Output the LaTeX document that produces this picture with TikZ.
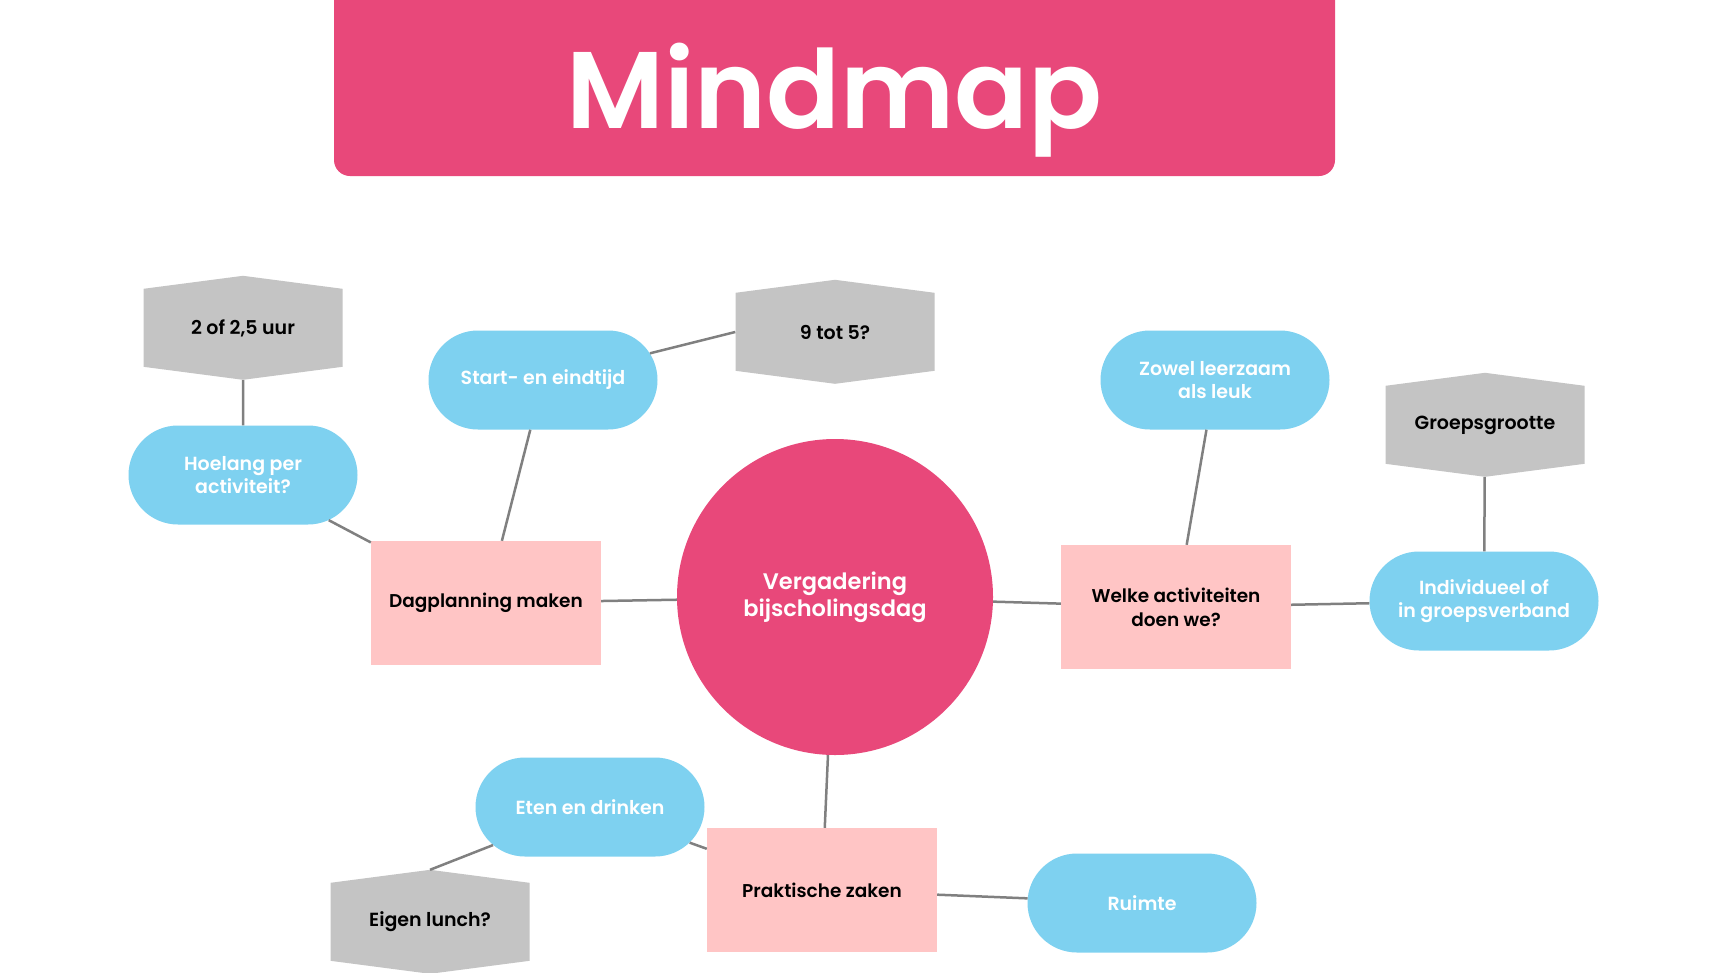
\documentclass[tikz,border=0pt]{standalone}
\usepackage{fontspec}
\setmainfont{Poppins}[BoldFont={Poppins SemiBold}]
\usetikzlibrary{backgrounds,shapes.misc}

\definecolor{mmpink}{HTML}{E8487A}
\definecolor{mmrose}{HTML}{FFC5C5}
\definecolor{mmblue}{HTML}{7ED1F0}
\definecolor{mmgrey}{HTML}{C4C4C4}
\definecolor{mmline}{HTML}{808080}

\tikzset{
    hub/.style={circle, fill=mmpink, minimum size=316pt, inner sep=0pt,
        align=center, text=white, font=\fontsize{22.5}{27.5}\selectfont\bfseries},
    topic/.style={rectangle, fill=mmrose, minimum width=230pt,
        minimum height=124pt, inner sep=0pt, align=center,
        font=\fontsize{18.5}{24}\selectfont\bfseries},
    pill/.style={rounded rectangle, fill=mmblue,
        minimum width=229pt, minimum height=99pt, inner sep=0pt,
        align=center, text=white, font=\fontsize{19}{23.5}\selectfont\bfseries},
    hexbox/.style={rectangle, minimum width=199pt, minimum height=104pt,
        inner sep=0pt, align=center, font=\fontsize{19}{23}\selectfont\bfseries},
    hexfill/.style={fill=mmgrey},
    link/.style={draw=mmline, line width=2.5pt},
}

\begin{document}
\begin{tikzpicture}[x=1pt, y=-1pt]

    \useasboundingbox (0,0) rectangle (1728,972);

    % title
    \node[fill=mmpink,
    rounded corners=16pt,
    minimum width=1001pt,
    minimum height=192pt,
    inner sep=0pt,
    text height=97pt,
    text depth=0pt,
    text=white,
    font=\fontsize{109}{109}\selectfont\bfseries] (title) at (834.5,80) {Mindmap};

    % centre and main topics
    \node[hub] (hub) at (835,597) {Vergadering\\bijscholingsdag};

    \node[topic] (dag) at (486,603) {Dagplanning maken};
    \node[topic] (welke) at (1176,607) {Welke activiteiten\\doen we?};
    \node[topic] (prak) at (822,890) {Praktische zaken};

    % sub topics
    \node[pill] (start) at (543,380) {Start- en eindtijd};
    \node[pill] (hoelang) at (243,475) {Hoelang per\\activiteit?};
    \node[pill] (zowel) at (1215,380) {Zowel leerzaam\\als leuk};
    \node[pill] (indiv) at (1484,601) {Individueel of\\in groepsverband};
    \node[pill] (eten) at (590,807) {Eten en drinken};
    \node[pill] (ruimte) at (1142,903) {Ruimte};

    \node[hexbox] (uur) at (243,328) {2 of 2,5 uur};
    \node[hexbox] (tijd) at (835,332) {9 tot 5?};
    \node[hexbox] (groep) at (1485,425) {Groepsgrootte};
    \node[hexbox] (lunch) at (430,922) {Eigen lunch?};

    \begin{scope}[on background layer]
        \fill[white] (0,0) rectangle (1728,972);
        \foreach \h in {uur,tijd,groep,lunch}
            \fill[hexfill] (\h.north) -- ++(99.5,13) -- ++(0,78)
                -- ++(-99.5,13) -- ++(-99.5,-13) -- ++(0,-78) -- cycle;
    \end{scope}

    \draw[link] (hub) -- (dag);
    \draw[link] (hub) -- (welke);
    \draw[link] (hub) -- (prak);

    \draw[link] (dag) -- (start);
    \draw[link] (dag) -- (hoelang);
    \draw[link] (hoelang) -- (uur);
    \draw[link] (start) -- (tijd.west);

    \draw[link] (welke) -- (zowel);
    \draw[link] (welke) -- (indiv);
    \draw[link] (indiv) -- (groep);

    \draw[link] (prak) -- (eten);
    \draw[link] (eten) -- (lunch.north);
    \draw[link] (prak) -- (ruimte);
\end{tikzpicture}
\end{document}
